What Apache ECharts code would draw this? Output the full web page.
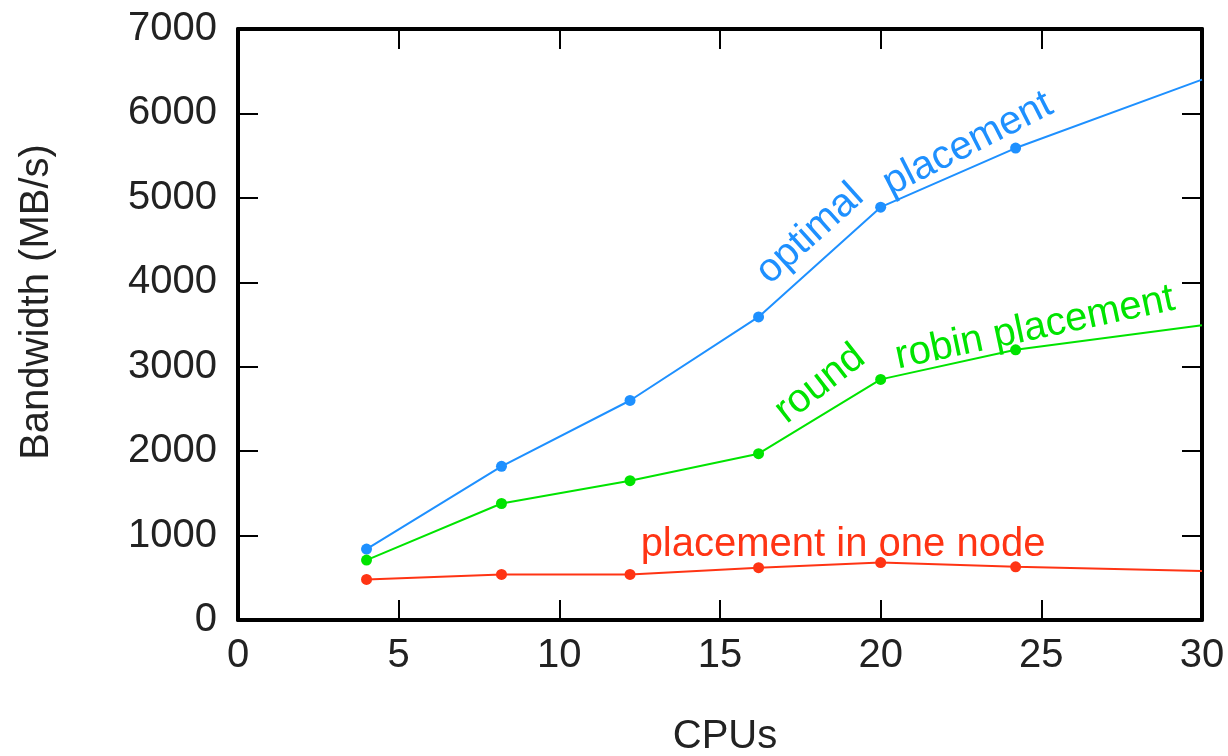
<!DOCTYPE html>
<html>
<head>
<meta charset="utf-8">
<script src="https://cdn.jsdelivr.net/npm/echarts@6/dist/echarts.min.js"></script>
<style>
html,body{margin:0;padding:0;background:#fff;}
#chart{width:1228px;height:756px;}
</style>
</head>
<body>
<div id="chart"></div>
<script>
// ---- data ----
const cpus = [4, 8.2, 12.2, 16.2, 20, 24.2, 30];
const optimal = [840, 1820, 2600, 3590, 4890, 5590, 6400];
const roundRobin = [710, 1380, 1650, 1970, 2850, 3200, 3490];
const oneNode = [480, 540, 540, 620, 680, 630, 580];
const xTicks = [0, 5, 10, 15, 20, 25, 30];
const yTicks = [0, 1000, 2000, 3000, 4000, 5000, 6000, 7000];
const xTitle = 'CPUs';
const yTitle = 'Bandwidth (MB/s)';
const labelOptimal1 = 'optimal';
const labelOptimal2 = 'placement';
const labelRound1 = 'round';
const labelRound2 = 'robin placement';
const labelNode = 'placement in one node';

const FONT = '"Liberation Sans", Arial, Helvetica, sans-serif';
const BLUE = '#1e90ff', GREEN = '#00e400', RED = '#ff3414';

function pts(ys) {
  return cpus.map((x, i) => ({
    value: [x, ys[i]],
    symbol: i === cpus.length - 1 ? 'none' : 'circle'
  }));
}

const chart = echarts.init(document.getElementById('chart'), null, {renderer: 'canvas'});

const axisLine = {show: true, onZero: false, lineStyle: {color: '#000', width: 4}};
const axisTick = {show: true, inside: true, length: 20, lineStyle: {color: '#000', width: 2}};
const labelStyle = {color: '#222', fontSize: 40, fontFamily: FONT, formatter: v => String(v)};

function series(name, ys, color) {
  return {
    name: name, type: 'line', data: pts(ys),
    symbolSize: 11, showSymbol: true,
    lineStyle: {color: color, width: 2},
    itemStyle: {color: color},
    animation: false, clip: true
  };
}

chart.setOption({
  animation: false,
  backgroundColor: '#fff',
  grid: {left: 238, right: 26, top: 29, bottom: 136, containLabel: false},
  xAxis: [
    {type: 'value', min: xTicks[0], max: xTicks[xTicks.length-1], interval: 5, position: 'bottom',
     axisLine: axisLine, axisTick: axisTick, splitLine: {show: false},
     axisLabel: Object.assign({margin: 16}, labelStyle)},
    {type: 'value', min: xTicks[0], max: xTicks[xTicks.length-1], interval: 5, position: 'top',
     axisLine: axisLine, axisTick: axisTick, splitLine: {show: false}, axisLabel: {show: false}}
  ],
  yAxis: [
    {type: 'value', min: yTicks[0], max: yTicks[yTicks.length-1], interval: 1000, position: 'left',
     axisLine: axisLine, axisTick: axisTick, splitLine: {show: false},
     axisLabel: Object.assign({margin: 21}, labelStyle)},
    {type: 'value', min: yTicks[0], max: yTicks[yTicks.length-1], interval: 1000, position: 'right',
     axisLine: axisLine, axisTick: axisTick, splitLine: {show: false}, axisLabel: {show: false}}
  ],
  series: [
    series('optimal placement', optimal, BLUE),
    series('round robin placement', roundRobin, GREEN),
    series('placement in one node', oneNode, RED)
  ],
  graphic: [
    {type: 'text', x: 37, y: 302, rotation: Math.PI/2,
     style: {text: yTitle, font: '40px ' + FONT, fill: '#222', textAlign: 'center', textVerticalAlign: 'middle'}},
    {type: 'text', x: 725, y: 737,
     style: {text: xTitle, font: '40px ' + FONT, fill: '#222', textAlign: 'center', textVerticalAlign: 'middle'}},
    {type: 'text', x: 810, y: 234, rotation: 42*Math.PI/180,
     style: {text: labelOptimal1, font: '40px ' + FONT, fill: BLUE, textAlign: 'center', textVerticalAlign: 'middle'}},
    {type: 'text', x: 968, y: 144, rotation: 27*Math.PI/180,
     style: {text: labelOptimal2, font: '40px ' + FONT, fill: BLUE, textAlign: 'center', textVerticalAlign: 'middle'}},
    {type: 'text', x: 820, y: 384, rotation: 38*Math.PI/180,
     style: {text: labelRound1, font: '40px ' + FONT, fill: GREEN, textAlign: 'center', textVerticalAlign: 'middle'}},
    {type: 'text', x: 1035, y: 328, rotation: 12*Math.PI/180,
     style: {text: labelRound2, font: '40px ' + FONT, fill: GREEN, textAlign: 'center', textVerticalAlign: 'middle'}},
    {type: 'text', x: 843, y: 545,
     style: {text: labelNode, font: '40px ' + FONT, fill: RED, textAlign: 'center', textVerticalAlign: 'middle'}}
  ]
});
</script>
</body>
</html>
